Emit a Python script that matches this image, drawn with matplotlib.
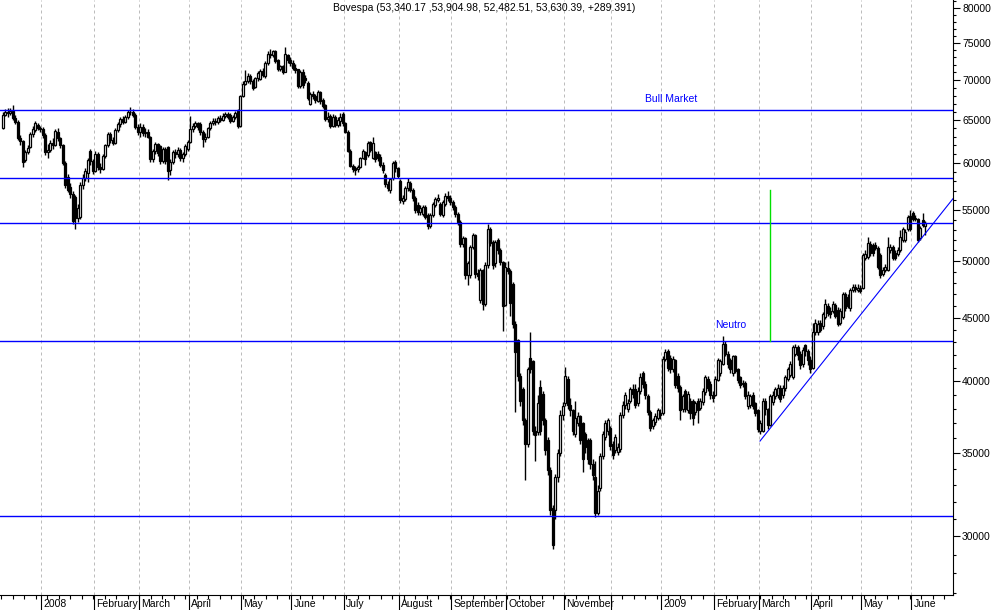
import numpy as np
import matplotlib.pyplot as plt
from matplotlib.ticker import FixedLocator, FuncFormatter, NullFormatter

plt.rcParams['font.family'] = ['Liberation Sans', 'DejaVu Sans']

# trading days per month, Dec 2007 .. Jun 2009
month_days = [16, 21, 18, 20, 21, 20, 21, 22, 21, 22, 23, 19, 20, 21, 18, 21, 20, 20, 6]
# label of each month boundary (Dec 2007 has no boundary, Dec 2008 is unlabelled)
month_labels = ['2008', 'February', 'March', 'April', 'May', 'June', 'July', 'August',
                'September', 'October', 'November', '', '2009', 'February', 'March',
                'April', 'May', 'June']

# daily OHLC, in thousands of points (one line per month)
opens = [
    64.0, 65.6, 66.0, 65.8, 66.1, 65.2, 64.8, 62.8, 62.5, 60.3, 61.2, 61.8, 63.3, 63.8, 64.4, 64.0,
    63.9, 63.2, 61.2, 61.5, 62.3, 62.0, 63.6, 62.8, 62.0, 60.0, 58.5, 57.4, 56.6, 56.3, 54.2, 54.3, 57.6, 58.4, 58.9, 61.3, 60.2,
    59.1, 61.0, 59.6, 59.3, 60.8, 62.0, 63.3, 62.6, 62.3, 63.8, 64.5, 65.1, 64.8, 65.3, 65.9, 66.0, 65.6, 64.2,
    63.5, 64.2, 63.4, 63.6, 63.0, 60.4, 61.3, 62.2, 61.9, 60.2, 61.6, 61.8, 59.2, 60.1, 61.2, 61.0, 61.5, 60.5, 61.0, 61.6,
    62.4, 63.9, 64.3, 64.6, 64.5, 63.5, 62.7, 63.0, 64.0, 64.6, 64.9, 64.7, 65.2, 65.0, 65.5, 65.7, 65.6, 64.9, 65.3, 66.1, 64.3,
    67.9, 69.5, 69.9, 70.5, 69.8, 69.1, 70.2, 70.1, 71.2, 70.5, 72.2, 73.5, 73.3, 73.8, 72.6, 71.4, 71.8, 71.1, 73.3, 72.6,
    72.2, 71.6, 71.4, 69.2, 71.1, 70.3, 69.6, 67.0, 68.2, 67.9, 67.3, 68.4, 67.5, 66.8, 65.1, 65.5, 64.3, 65.3, 64.4, 64.9, 65.7,
    64.6, 63.6, 61.4, 59.7, 59.4, 59.3, 59.6, 60.6, 61.2, 60.9, 62.4, 60.6, 61.2, 61.0, 60.7, 59.8, 58.7, 57.7, 57.1, 58.3, 60.1, 59.4,
    58.0, 55.9, 56.1, 57.3, 57.8, 57.1, 56.2, 55.5, 54.8, 54.6, 55.3, 54.5, 53.4, 54.5, 55.5, 56.0, 55.6, 54.5, 55.6, 56.4, 56.2,
    55.8, 55.3, 54.6, 53.8, 51.6, 52.2, 48.7, 48.7, 51.3, 52.5, 48.9, 46.5, 49.2, 46.2, 49.6, 53.1, 51.8, 49.8, 52.0, 51.0, 49.9, 46.1,
    49.4, 49.1, 47.9, 44.5, 43.2, 40.4, 39.4, 37.2, 35.6, 41.8, 41.5, 36.5, 36.4, 39.6, 39.1, 37.2, 35.9, 33.9, 31.6, 31.5, 33.5, 35.0, 37.6,
    38.4, 40.2, 38.3, 37.9, 36.3, 37.0, 37.5, 37.0, 36.3, 35.9, 35.9, 34.3, 33.5, 31.3, 32.8, 34.8, 36.1, 36.5, 36.7,
    35.6, 35.2, 35.1, 35.3, 37.6, 38.3, 38.0, 38.6, 39.4, 39.4, 38.4, 39.3, 40.6, 39.8, 38.9, 37.8, 36.8, 37.1, 37.4, 37.7,
    37.7, 41.7, 42.3, 41.8, 40.9, 41.6, 40.4, 39.6, 38.0, 39.3, 37.9, 38.6, 38.6, 37.8, 38.6, 38.1, 38.5, 39.2, 40.2, 39.8, 39.0,
    39.0, 40.1, 40.6, 41.3, 42.9, 42.1, 41.6, 40.6, 41.9, 40.9, 40.3, 39.9, 39.9, 38.2, 38.3, 39.0, 38.4, 37.9,
    36.5, 36.5, 38.6, 38.0, 36.9, 38.5, 38.9, 39.0, 39.5, 39.0, 39.5, 40.2, 40.5, 40.3, 42.1, 42.6, 42.1, 41.3, 42.8, 42.3, 41.6,
    41.0, 43.8, 43.8, 44.6, 44.3, 45.1, 46.0, 45.6, 45.6, 46.1, 45.7, 44.6, 45.1, 47.0, 46.8, 45.8, 47.4, 47.7, 47.4, 47.6,
    47.6, 50.3, 50.4, 51.6, 51.5, 51.5, 51.2, 50.6, 48.8, 49.2, 49.2, 51.0, 51.3, 50.8, 50.7, 51.0, 52.0, 52.0, 53.1, 54.4,
    54.7, 54.1, 54.1, 52.2, 54.0, 53.34,
]
highs = [
    66.0, 66.3, 66.4, 66.5, 66.8, 65.6, 65.0, 63.2, 62.6, 61.5, 62.0, 63.5, 64.3, 64.9, 64.6, 64.3,
    64.2, 63.4, 62.2, 62.6, 62.8, 63.9, 64.0, 63.0, 62.1, 60.2, 58.8, 57.8, 57.0, 56.5, 55.6, 57.9, 58.8, 59.4, 60.6, 61.6, 60.4,
    61.3, 61.2, 60.0, 61.0, 62.2, 63.5, 63.6, 63.0, 64.0, 64.8, 65.4, 65.5, 65.6, 66.2, 66.6, 66.3, 65.8, 64.5,
    64.6, 64.5, 64.0, 63.9, 63.1, 61.6, 62.4, 62.3, 62.0, 61.8, 61.8, 61.9, 60.4, 61.5, 61.6, 61.8, 61.7, 61.2, 62.1, 62.6,
    65.5, 64.6, 64.9, 64.8, 64.7, 63.8, 63.4, 64.2, 64.9, 65.2, 65.2, 65.5, 65.6, 65.8, 66.0, 66.0, 65.8, 65.6, 66.1, 66.3, 68.1,
    69.8, 71.3, 70.9, 70.8, 70.1, 70.4, 71.2, 71.5, 71.6, 72.5, 73.8, 74.1, 74.0, 74.0, 72.8, 72.0, 72.0, 74.4, 73.5, 73.0,
    72.6, 72.1, 71.5, 71.3, 71.4, 70.6, 69.8, 68.4, 68.6, 68.2, 68.7, 68.6, 67.7, 67.0, 65.9, 65.7, 65.7, 65.6, 65.3, 65.8, 65.9,
    64.8, 63.8, 61.6, 59.9, 59.7, 59.8, 60.7, 61.6, 61.4, 62.5, 62.5, 63.0, 61.4, 61.3, 61.0, 60.1, 58.9, 58.0, 58.4, 60.2, 60.3, 59.6,
    58.2, 56.5, 57.5, 58.3, 58.0, 57.3, 56.4, 55.8, 55.5, 55.5, 55.5, 54.7, 54.7, 55.8, 56.3, 56.6, 55.8, 56.0, 56.7, 57.0, 56.5,
    56.0, 55.5, 54.8, 54.0, 52.4, 52.3, 50.0, 51.5, 52.7, 52.6, 49.3, 49.4, 49.3, 49.9, 53.6, 53.3, 52.0, 52.0, 52.2, 51.2, 50.0, 49.9,
    50.0, 49.3, 48.1, 44.7, 43.3, 40.6, 39.6, 37.4, 41.1, 43.8, 41.6, 36.8, 39.0, 40.1, 39.3, 37.4, 36.1, 34.1, 31.8, 33.7, 35.3, 37.9, 38.5,
    41.1, 40.4, 38.8, 38.0, 38.6, 37.8, 37.6, 37.1, 36.4, 36.0, 36.0, 34.6, 34.5, 33.0, 35.0, 36.5, 37.2, 37.4, 36.8,
    35.8, 36.3, 35.7, 37.8, 38.6, 39.2, 38.7, 39.6, 39.8, 39.8, 39.6, 40.6, 40.8, 40.0, 39.1, 37.9, 37.4, 37.7, 38.1, 38.0,
    41.9, 42.5, 42.5, 42.0, 41.9, 41.7, 40.6, 39.7, 39.1, 39.4, 39.3, 38.8, 38.7, 38.6, 38.8, 38.8, 39.5, 40.5, 40.4, 40.0, 39.3,
    40.4, 41.8, 41.7, 43.5, 43.1, 42.3, 41.8, 42.0, 42.0, 41.0, 40.4, 40.1, 40.0, 39.3, 39.1, 39.2, 38.5, 38.0,
    37.2, 38.8, 38.8, 38.1, 39.1, 39.3, 39.6, 39.8, 39.7, 39.7, 40.5, 41.1, 41.5, 42.8, 42.9, 42.8, 42.3, 42.6, 42.9, 42.5, 41.9,
    44.6, 44.9, 44.8, 44.8, 45.5, 46.6, 46.3, 45.9, 46.4, 46.3, 45.9, 45.8, 47.2, 47.2, 47.0, 47.6, 47.9, 47.9, 47.9, 47.8,
    50.8, 51.0, 52.3, 51.9, 51.7, 51.8, 51.4, 50.8, 49.5, 49.7, 52.3, 51.6, 51.5, 51.0, 51.3, 53.0, 53.3, 53.1, 54.5, 55.0,
    54.9, 54.5, 54.2, 53.4, 54.7, 53.90,
]
lows = [
    63.9, 65.5, 65.4, 65.6, 65.0, 64.5, 62.6, 62.0, 59.6, 60.1, 61.0, 61.7, 63.0, 63.5, 63.8, 63.6,
    62.9, 60.9, 60.6, 61.2, 61.6, 61.9, 62.5, 61.7, 59.8, 57.3, 56.8, 56.2, 53.6, 53.1, 53.8, 54.1, 57.2, 58.0, 57.9, 59.8, 58.8,
    59.0, 59.2, 58.9, 59.2, 60.6, 61.8, 62.3, 62.0, 62.1, 63.5, 64.2, 64.5, 64.6, 65.1, 65.6, 65.3, 63.9, 63.2,
    63.0, 63.1, 63.0, 62.8, 60.1, 60.1, 61.0, 60.8, 59.9, 60.0, 59.9, 58.1, 58.7, 59.9, 60.6, 60.7, 60.2, 60.1, 60.8, 61.4,
    62.3, 63.6, 64.0, 63.8, 63.2, 61.8, 62.4, 62.8, 63.8, 64.4, 64.4, 64.5, 64.8, 64.9, 65.2, 65.1, 64.6, 64.7, 65.1, 64.0, 64.2,
    67.8, 69.3, 69.6, 69.5, 68.7, 68.9, 69.9, 70.0, 70.4, 70.3, 72.0, 72.9, 73.0, 72.3, 71.2, 71.2, 70.8, 71.0, 72.3, 71.9,
    71.3, 70.9, 68.9, 69.0, 69.0, 69.6, 67.4, 66.8, 67.6, 67.1, 67.2, 67.0, 66.4, 64.9, 64.8, 64.0, 64.1, 64.1, 64.2, 64.3, 64.3,
    63.4, 61.2, 59.5, 59.0, 58.7, 59.0, 59.4, 60.4, 59.8, 60.7, 61.2, 60.4, 60.1, 60.2, 59.5, 58.9, 57.4, 57.0, 56.7, 58.1, 59.0, 58.3,
    55.7, 55.6, 55.9, 57.0, 56.8, 55.9, 54.7, 54.5, 54.5, 54.4, 54.1, 53.1, 53.2, 54.3, 55.3, 55.8, 54.4, 54.3, 55.4, 55.9, 55.5,
    55.0, 54.3, 53.5, 51.3, 51.3, 48.4, 47.8, 48.5, 51.1, 48.5, 48.3, 46.3, 45.7, 46.0, 49.4, 51.4, 49.3, 49.5, 50.7, 49.6, 43.9, 46.0,
    48.8, 45.2, 44.2, 37.8, 40.0, 38.2, 36.9, 33.3, 35.4, 40.6, 36.2, 34.5, 36.2, 36.2, 36.9, 34.9, 33.6, 31.2, 29.3, 31.0, 33.2, 34.8, 37.2,
    38.2, 38.0, 37.5, 36.2, 36.1, 36.8, 35.6, 33.8, 35.0, 34.3, 34.0, 33.3, 31.1, 31.2, 32.6, 34.6, 35.9, 36.2, 35.2,
    34.6, 35.0, 34.9, 35.1, 37.4, 38.0, 37.8, 38.4, 38.8, 38.1, 38.2, 39.1, 39.5, 38.7, 37.6, 36.5, 36.6, 36.9, 37.2, 37.3,
    37.6, 41.5, 40.8, 40.6, 40.7, 39.5, 39.2, 37.2, 37.8, 37.8, 37.7, 37.3, 36.9, 37.6, 37.0, 37.9, 38.3, 39.0, 39.3, 38.7, 38.5,
    38.9, 40.0, 40.4, 41.2, 41.9, 41.0, 40.6, 40.4, 40.6, 39.9, 39.5, 39.6, 38.7, 38.0, 38.1, 38.0, 37.5, 36.4,
    36.3, 36.4, 37.6, 36.6, 36.8, 38.3, 38.7, 38.8, 38.5, 38.8, 39.3, 40.0, 40.3, 40.2, 41.9, 41.6, 40.9, 41.1, 41.9, 41.2, 40.6,
    40.9, 43.6, 43.6, 43.8, 44.1, 44.9, 45.2, 45.0, 45.4, 45.0, 44.3, 44.4, 44.9, 45.6, 45.8, 45.6, 47.2, 47.2, 47.2, 47.1,
    47.5, 50.1, 50.2, 50.5, 50.5, 51.0, 49.3, 48.5, 48.6, 49.0, 49.1, 50.8, 50.1, 50.1, 50.5, 50.9, 51.8, 51.8, 52.9, 52.9,
    53.9, 53.9, 51.8, 52.0, 53.3, 52.48,
]
closes = [
    65.6, 66.0, 65.8, 66.1, 65.2, 64.8, 62.8, 62.5, 60.1, 61.2, 61.7, 63.3, 63.9, 64.6, 64.0, 63.9,
    63.2, 61.2, 61.5, 62.3, 62.0, 63.7, 62.8, 62.0, 60.0, 57.6, 57.1, 56.6, 53.9, 54.2, 55.2, 57.6, 58.4, 59.1, 60.3, 60.2, 59.1,
    61.0, 59.6, 59.3, 60.8, 62.0, 63.3, 62.6, 62.3, 63.8, 64.5, 65.1, 64.8, 65.3, 65.9, 66.0, 65.6, 64.2, 63.5,
    64.2, 63.4, 63.6, 63.0, 60.4, 61.3, 62.2, 61.1, 60.2, 61.6, 60.2, 59.1, 60.1, 61.2, 61.0, 61.5, 60.5, 61.0, 61.9, 62.4,
    63.9, 64.3, 64.6, 64.1, 63.5, 62.7, 63.0, 64.0, 64.6, 64.9, 64.7, 65.2, 65.0, 65.5, 65.7, 65.4, 64.9, 65.3, 65.8, 64.3, 67.9,
    69.5, 69.9, 70.5, 69.8, 69.0, 70.2, 70.9, 71.2, 70.6, 72.3, 73.5, 73.3, 73.8, 72.5, 71.4, 71.8, 71.1, 73.4, 72.6, 72.2,
    71.6, 71.3, 69.2, 71.0, 69.3, 70.0, 67.7, 68.2, 68.0, 67.4, 68.4, 67.3, 66.7, 65.1, 65.4, 64.3, 65.4, 64.4, 65.0, 65.4, 64.6,
    63.6, 61.4, 59.7, 59.3, 59.2, 59.5, 60.5, 61.4, 60.4, 62.3, 61.5, 62.3, 60.4, 60.6, 59.8, 59.2, 57.7, 57.3, 58.2, 60.0, 59.4, 58.6,
    56.0, 56.2, 57.3, 57.9, 57.1, 56.2, 55.0, 54.8, 55.2, 55.3, 54.3, 53.4, 54.5, 55.6, 56.1, 56.2, 54.6, 55.8, 56.4, 56.2, 55.8,
    55.3, 54.6, 53.8, 51.6, 52.2, 48.7, 49.8, 51.3, 52.5, 48.8, 48.6, 49.2, 46.2, 49.6, 53.1, 51.7, 49.6, 51.8, 51.0, 49.9, 46.0, 49.5,
    49.1, 46.3, 44.5, 42.2, 40.4, 38.6, 37.2, 35.6, 40.9, 40.9, 36.5, 36.2, 38.4, 36.5, 37.2, 35.2, 33.9, 31.5, 29.5, 33.5, 35.0, 37.6, 38.2,
    40.4, 38.3, 37.9, 36.5, 37.4, 37.5, 35.9, 34.6, 35.4, 34.6, 34.3, 33.6, 31.3, 32.6, 34.8, 36.3, 37.0, 37.2, 35.5,
    34.9, 36.1, 35.4, 37.6, 38.3, 39.0, 38.4, 39.4, 39.1, 38.3, 39.3, 40.3, 39.8, 39.0, 37.8, 36.7, 37.2, 37.5, 37.9, 37.6,
    41.7, 42.2, 41.0, 40.9, 41.7, 39.7, 39.5, 37.9, 38.9, 38.0, 39.1, 37.7, 37.4, 38.4, 37.9, 38.6, 39.3, 40.3, 39.5, 39.0, 38.8,
    40.2, 41.6, 41.5, 42.9, 42.1, 41.3, 40.9, 41.9, 40.8, 40.1, 39.7, 39.8, 38.9, 39.0, 38.9, 38.2, 37.7, 36.6,
    37.0, 38.6, 38.0, 36.9, 38.9, 39.0, 39.4, 39.5, 38.7, 39.5, 40.3, 40.9, 41.3, 42.6, 42.6, 42.0, 41.2, 42.4, 42.3, 41.6, 40.9,
    43.8, 44.6, 44.5, 44.0, 45.3, 46.2, 45.4, 45.3, 46.2, 45.2, 44.5, 45.6, 47.0, 45.8, 46.0, 47.4, 47.7, 47.5, 47.6, 47.3,
    50.6, 50.7, 51.7, 50.8, 50.8, 51.2, 49.5, 48.7, 49.2, 49.5, 51.3, 51.3, 50.3, 50.3, 51.0, 52.3, 53.1, 52.8, 54.3, 53.1,
    54.1, 54.2, 52.0, 53.2, 53.5, 53.63,
]

# drawn studies
levels = [66150, 58400, 53700, 43140, 31160]
trend_x = [303, 380.2]
trend_y = [35800, 56150]
target_x = 307.1
target_y = [43140, 57050]
notes = [('Bull Market', 257, 67600), ('Neutro', 285, 44400)]
title = 'Bovespa (53,340.17 ,53,904.98, 52,482.51, 53,630.39, +289.391)'

y_major = [30000, 35000, 40000, 45000, 50000, 55000, 60000, 65000, 70000, 75000, 80000]

o = np.array(opens) * 1000
h = np.array(highs) * 1000
l = np.array(lows) * 1000
c = np.array(closes) * 1000
x = np.arange(len(c))
starts = np.cumsum(month_days)[:-1]
bounds = starts - 0.5

fig = plt.figure(figsize=(9.94, 6.10), dpi=100)
ax = fig.add_axes([0, 15 / 610, 953 / 994, 595 / 610])
ax.set_yscale('log')
ax.set_xlim(-1, 380.2)
ax.set_ylim(26900, 81200)

# month grid
for b in bounds:
    ax.axvline(b, color='#bcbcbc', lw=0.72, linestyle=(0, (3, 3)), zorder=1)

for lev in levels:
    ax.axhline(lev, color='#0000ff', lw=1.0, zorder=4)
ax.plot(trend_x, trend_y, color='#0000ff', lw=0.8, zorder=4, clip_on=True)
ax.plot([target_x, target_x], target_y, color='#00e000', lw=1.0, zorder=4)
for txt, tx, ty in notes:
    ax.text(tx, ty, txt, color='#0000ff', fontsize=7.5, ha='left', va='center')

# candles
up = c >= o
ax.vlines(x, l, h, color='black', lw=1.0, zorder=2)
ax.bar(x[up], np.maximum(c - o, 15)[up], bottom=o[up], width=0.8,
       facecolor='white', edgecolor='black', linewidth=0.9, zorder=3)
ax.bar(x[~up], (o - c)[~up], bottom=c[~up], width=0.8,
       facecolor='black', edgecolor='black', linewidth=0.9, zorder=3)

# axes cosmetics
for side in ['left', 'top']:
    ax.spines[side].set_visible(False)
ax.spines['right'].set_linewidth(0.8)
ax.spines['bottom'].set_linewidth(0.8)

ax.yaxis.tick_right()
ax.yaxis.set_major_locator(FixedLocator(y_major))
ax.yaxis.set_major_formatter(FuncFormatter(lambda v, p: '%d' % v))
ax.yaxis.set_minor_locator(FixedLocator([v for v in range(27000, 81001, 1000) if v not in y_major]))
ax.yaxis.set_minor_formatter(NullFormatter())
ax.tick_params(axis='y', which='major', length=5, width=0.8, pad=1.5, labelsize=7.5)
ax.tick_params(axis='y', which='minor', length=2.2, width=0.8)

ax.xaxis.set_major_locator(FixedLocator(bounds))
ax.xaxis.set_major_formatter(NullFormatter())
ax.xaxis.set_minor_locator(FixedLocator(np.arange(-0.5, 380, 4.6)))
ax.tick_params(axis='x', which='major', length=11, width=0.8)
ax.tick_params(axis='x', which='minor', length=3, width=0.8)
for b, lab in zip(bounds, month_labels):
    ax.annotate(lab, xy=(b, 0), xycoords=('data', 'axes fraction'), xytext=(1.5, -3),
                textcoords='offset points', ha='left', va='top', fontsize=7.5)

fig.text(333 / 994, 1 - 8 / 610, title, ha='left', va='center', fontsize=7.5)

fig.savefig('out.png', dpi=100)
